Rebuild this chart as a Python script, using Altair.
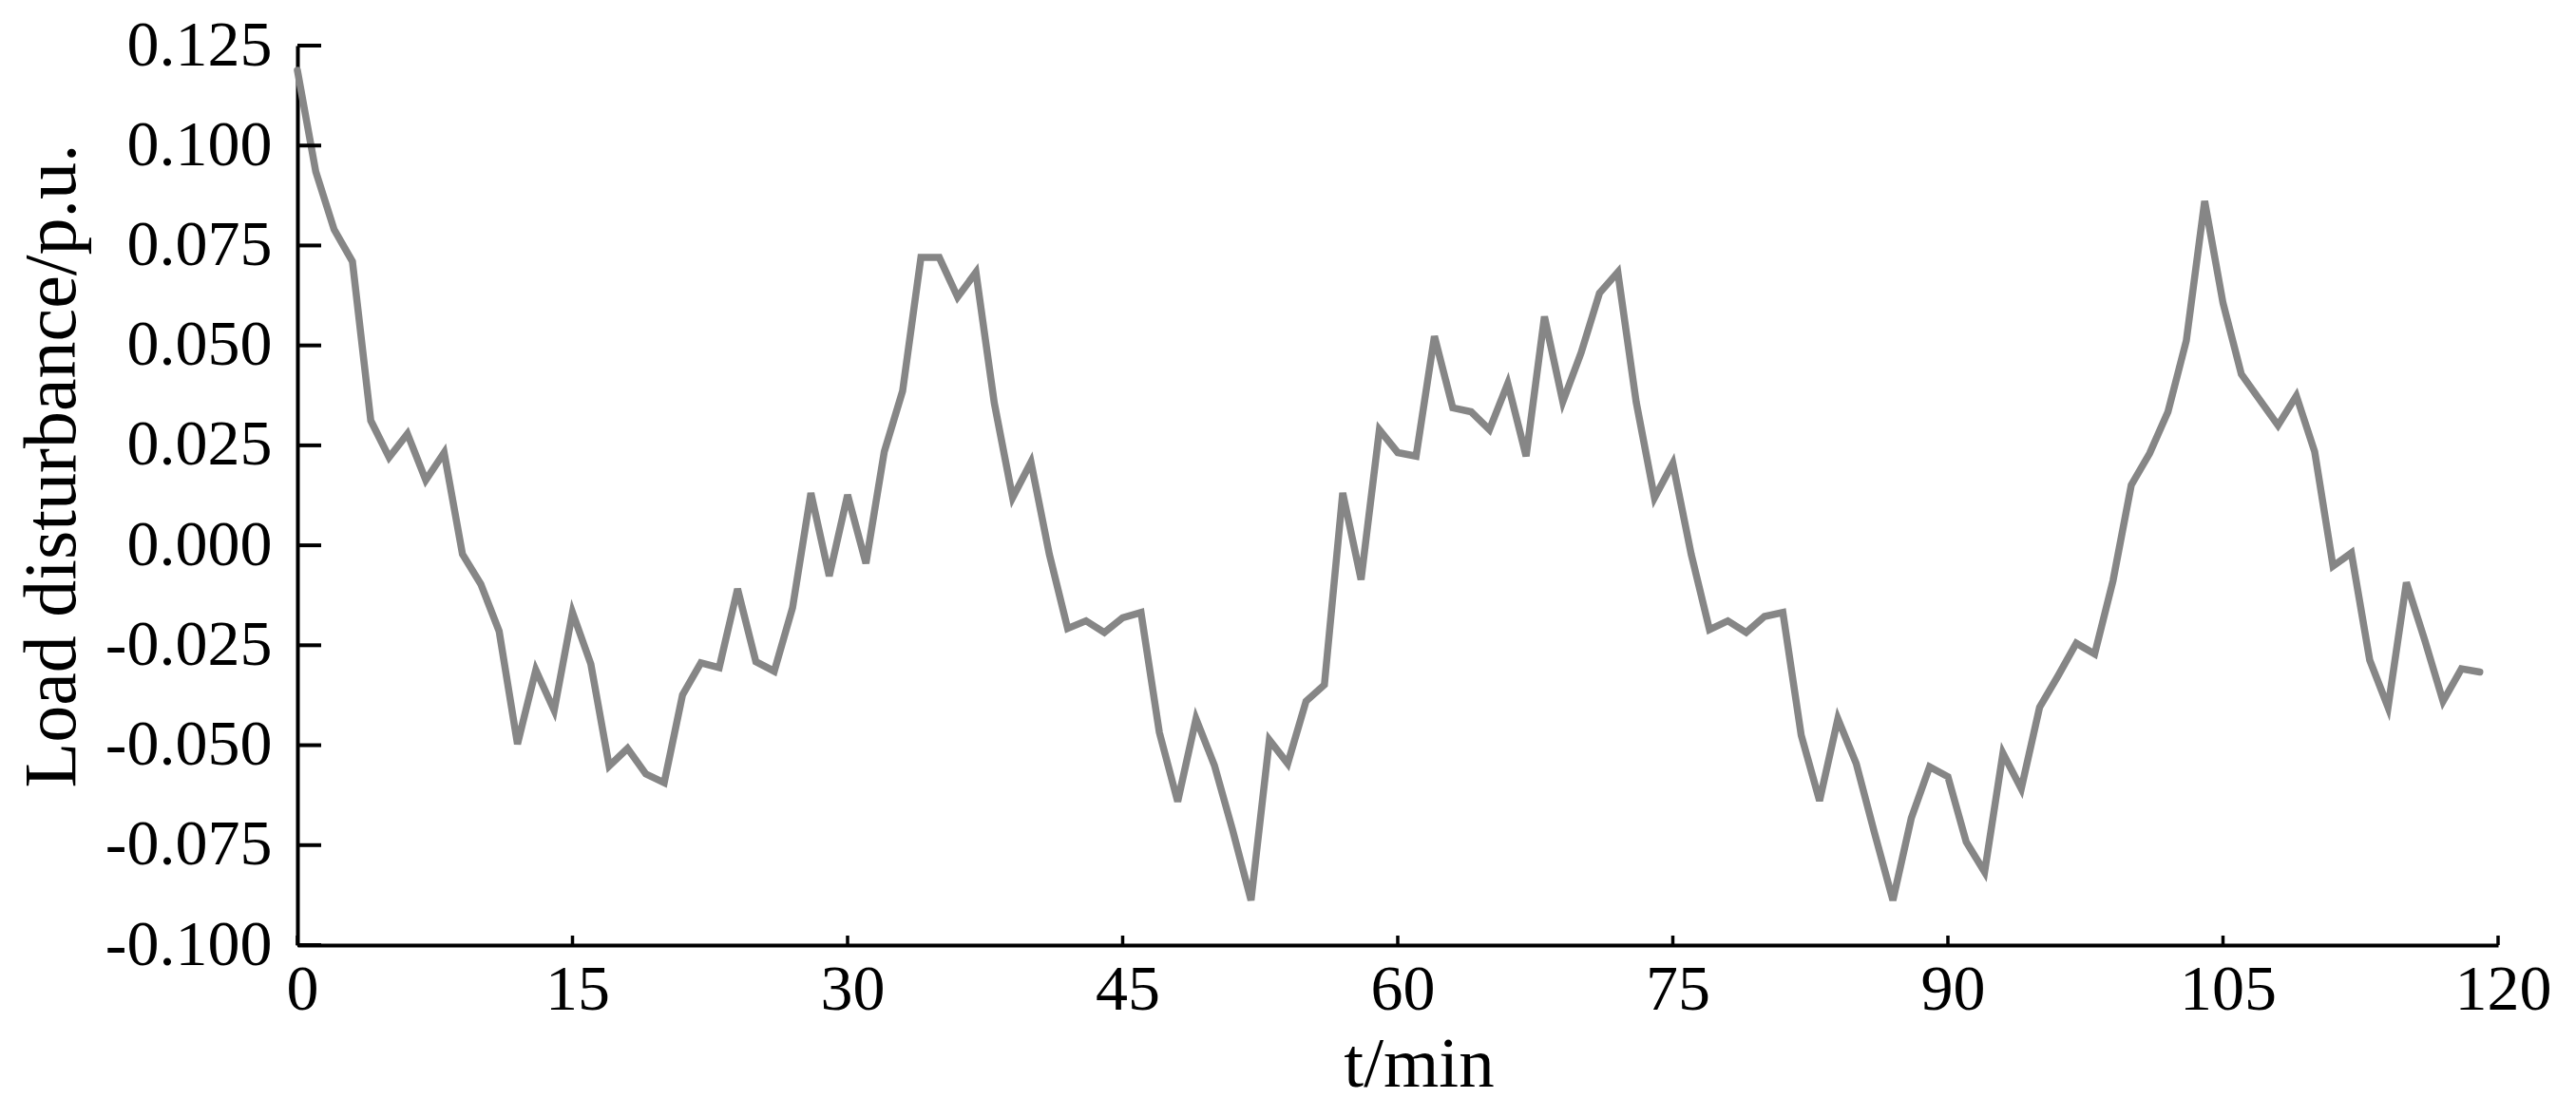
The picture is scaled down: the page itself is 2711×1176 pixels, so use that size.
import altair as alt
import pandas as pd

t_min = list(range(120))
load = [
    0.1188, 0.0935, 0.0790, 0.0710, 0.0312, 0.0220, 0.0279, 0.0163, 0.0232, -0.0022,
    -0.0097, -0.0215, -0.0497, -0.0312, -0.0413, -0.0168, -0.0297, -0.0552, -0.0508, -0.0572,
    -0.0594, -0.0374, -0.0294, -0.0306, -0.0109, -0.0291, -0.0315, -0.0156, 0.0131, -0.0077,
    0.0126, -0.0045, 0.0234, 0.0386, 0.0720, 0.0720, 0.0621, 0.0683, 0.0356, 0.0119,
    0.0208, -0.0022, -0.0208, -0.0189, -0.0218, -0.0181, -0.0168, -0.0468, -0.0641, -0.0434,
    -0.0550, -0.0713, -0.0888, -0.0487, -0.0546, -0.0390, -0.0349, 0.0131, -0.0086, 0.0289,
    0.0232, 0.0223, 0.0523, 0.0344, 0.0334, 0.0289, 0.0405, 0.0223, 0.0572, 0.0359,
    0.0482, 0.0631, 0.0683, 0.0359, 0.0119, 0.0205, -0.0022, -0.0211, -0.0189, -0.0218,
    -0.0178, -0.0168, -0.0475, -0.0639, -0.0434, -0.0546, -0.0720, -0.0888, -0.0683, -0.0554,
    -0.0579, -0.0742, -0.0817, -0.0520, -0.0609, -0.0405, -0.0327, -0.0245, -0.0272, -0.0089,
    0.0151, 0.0230, 0.0334, 0.0512, 0.0861, 0.0606, 0.0428, 0.0364, 0.0300, 0.0374,
    0.0234, -0.0052, -0.0019, -0.0287, -0.0405, -0.0093, -0.0237, -0.0390, -0.0309, -0.0317,
]
x_ticks = [0, 15, 30, 45, 60, 75, 90, 105, 120]
y_ticks = [-0.100, -0.075, -0.050, -0.025, 0.000, 0.025, 0.050, 0.075, 0.100, 0.125]

W, H = 2316, 947
FONT = "Liberation Serif"

df = pd.DataFrame({"t": t_min, "v": load})
xt_df = pd.DataFrame({"t": x_ticks})
yt_df = pd.DataFrame({"v": y_ticks})

xs = alt.Scale(domain=[0, 120], nice=False, zero=False)
ys = alt.Scale(domain=[-0.1, 0.125], nice=False, zero=False)

common_axis = dict(
    grid=False, ticks=False, tickSize=0,
    domainColor="black", domainWidth=4,
    labelFont=FONT, labelColor="black", labelFontSize=68,
    titleFont=FONT, titleColor="black", titleFontWeight="normal",
    labelOverlap=False, labelFlush=False, labelBound=False,
)

x_axis = alt.Axis(
    values=x_ticks, title="t/min", labelPadding=13, labelOffset=5,
    titleFontSize=75, titleX=1180, titleY=148, titleBaseline="alphabetic",
    titleAlign="center", **common_axis)
y_axis = alt.Axis(
    values=y_ticks, title="Load disturbance/p.u.", labelPadding=27,
    labelExpr="replace(format(datum.value, '.3f'), '\u2212', '-')",
    titleFontSize=78, titleAngle=270, titleX=-235, titleY=442,
    titleBaseline="alphabetic", titleAlign="center", **common_axis)

line = alt.Chart(df).mark_line(
    color="#868686", strokeWidth=7.5, strokeJoin="miter", strokeCap="round"
).encode(
    x=alt.X("t:Q", scale=xs, axis=x_axis),
    y=alt.Y("v:Q", scale=ys, axis=y_axis),
)

yrules = alt.Chart(yt_df).mark_rule(color="black", strokeWidth=4).encode(
    y=alt.Y("v:Q", scale=ys, axis=y_axis),
    x=alt.value(0), x2=alt.value(25),
)
xrules = alt.Chart(xt_df).mark_rule(color="black", strokeWidth=3.5).encode(
    x=alt.X("t:Q", scale=xs, axis=x_axis),
    y=alt.value(H), y2=alt.value(H - 10),
)

chart = alt.layer(line, yrules, xrules).properties(
    width=W, height=H,
    autosize=alt.AutoSizeParams(type="none"),
    padding={"left": 305, "top": 40, "right": 70, "bottom": 165},
    background="white",
).configure_view(stroke=None)

chart.save("out.html", embed_options={"renderer": "svg", "actions": False})
